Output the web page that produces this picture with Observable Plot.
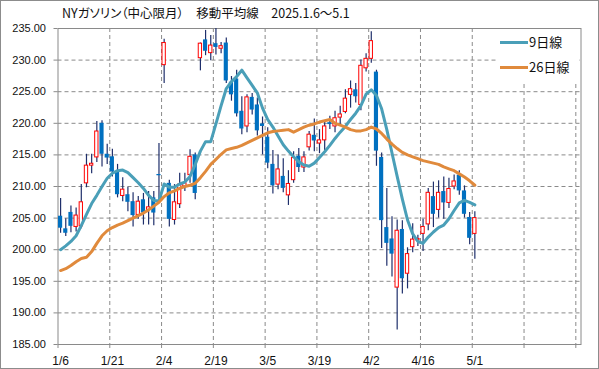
<!DOCTYPE html>
<html><head><meta charset="utf-8">
<script src="https://cdn.jsdelivr.net/npm/d3@7"></script>
<script src="https://cdn.jsdelivr.net/npm/@observablehq/plot@0.6"></script>
<style>
body{margin:0;background:#fff;}
#wrap{position:relative;width:599px;height:369px;overflow:hidden;background:#fff;}
#wrap svg{position:absolute;left:0;top:0;}
#border{position:absolute;left:0;top:0;width:599px;height:369px;box-sizing:border-box;border:1px solid #8c8c8c;pointer-events:none;}
#title{position:absolute;left:62px;top:6px;font-family:"Noto Sans CJK JP",sans-serif;font-size:12.5px;line-height:14px;color:#111;white-space:pre;font-feature-settings:"palt";}
#legend{position:absolute;left:497px;top:29px;width:82px;height:54px;background:#fff;}
.lgline{position:absolute;height:3px;width:28px;left:500px;}
.lgtext{position:absolute;left:529px;font-family:"Noto Sans CJK JP",sans-serif;font-size:13px;line-height:14px;color:#111;}
</style></head>
<body>
<div id="wrap">
<div id="chart"></div>
<div id="title">NYガソリン（中心限月）　移動平均線　2025.1.6～5.1</div>
<div id="legend"></div>
<div class="lgline" style="top:41px;background:#4a9fb8"></div>
<div class="lgtext" style="top:35px">9日線</div>
<div class="lgline" style="top:66px;background:#e08a3c"></div>
<div class="lgtext" style="top:60px">26日線</div>
<div id="border"></div>
</div>
<script>
const tickLabels = ["1/6","1/21","2/4","2/19","3/5","3/19","4/2","4/16","5/1"];
const tickSlots = [0,10,20,30,40,50,60,70,80];
const yTicks = [185,190,195,200,205,210,215,220,225,230,235];

const open  = [205.3,203.3,205.9,203.6,203.7,210.5,213.3,214.6,220.0,215.1,214.7,212.3,208.5,208.7,207.6,205.5,207.9,206.3,208.2,211.9,229.2,210.5,204.7,207.2,210.0,211.8,215.0,230.3,233.2,231.1,232.6,231.8,232.7,226.5,227.0,221.9,219.5,224.1,222.9,219.9,217.8,213.5,210.3,211.6,208.6,211.0,214.8,213.0,216.2,218.1,216.8,217.3,220.1,219.5,220.9,221.8,224.5,225.3,222.9,228.7,230.2,228.1,214.6,203.5,201.7,194.0,203.2,196.2,200.4,201.5,202.5,204.0,208.4,206.3,209.2,207.4,210.0,211.8,209.3,205.1,202.5];
const high  = [208.1,204.9,206.9,206.6,210.3,215.1,215.1,220.3,220.4,216.7,215.9,213.5,211.4,209.9,209.0,208.4,208.9,209.2,209.2,216.8,233.3,211.0,210.3,212.1,212.1,215.8,215.3,232.7,234.7,233.9,235.0,232.8,233.5,227.4,228.4,224.2,224.5,224.7,224.0,221.0,219.3,215.7,215.0,214.4,212.5,215.5,216.0,215.5,218.7,220.7,219.0,220.3,221.1,221.9,222.7,225.3,226.7,226.3,230.0,231.0,234.5,228.4,215.3,209.7,205.2,204.7,204.6,200.3,204.1,202.3,204.8,209.7,210.7,210.9,211.5,211.3,211.8,212.5,210.1,205.9,206.0];
const low   = [202.6,202.1,202.7,202.8,203.3,209.8,212.0,213.8,213.1,213.5,211.5,208.2,207.6,206.0,203.6,204.8,203.9,203.9,203.8,207.5,226.3,203.6,203.9,206.5,209.2,210.5,207.9,228.3,230.7,229.9,230.8,231.0,226.3,223.5,221.0,218.2,218.5,221.3,218.0,215.0,212.8,208.8,209.5,209.0,207.0,210.5,212.2,212.2,215.6,215.5,215.2,215.6,219.0,218.5,219.6,221.5,222.4,223.2,222.0,228.1,229.5,213.2,200.2,197.4,195.7,187.3,193.0,193.8,199.5,200.5,199.7,203.0,203.5,205.0,204.8,206.5,209.5,208.6,205.0,200.8,198.5];
const close = [203.4,202.6,203.7,205.4,207.5,213.3,213.6,218.7,215.1,214.5,212.3,208.7,209.5,207.5,205.4,207.6,205.8,206.7,205.8,211.7,232.7,204.8,207.5,210.3,210.5,214.7,208.9,232.6,231.4,232.3,232.0,232.2,226.7,224.5,221.5,219.1,224.1,222.1,218.8,219.5,213.7,210.1,212.7,209.7,210.4,214.5,213.0,214.6,218.2,217.2,217.3,219.5,219.8,220.8,221.4,223.9,225.4,224.2,229.1,230.2,233.0,215.6,204.6,201.0,199.3,203.0,195.4,199.3,201.6,201.7,203.6,209.0,205.6,209.0,207.4,209.6,210.8,209.3,205.6,201.8,205.0];
const ma9   = [200.0,200.6,201.3,202.2,203.8,205.6,207.3,208.6,210.0,211.3,212.1,212.5,212.6,212.2,211.4,210.6,209.7,208.6,207.8,207.7,210.4,209.9,209.9,210.4,210.7,211.6,213.5,215.6,217.1,217.1,219.9,222.8,225.5,226.6,227.4,228.4,227.2,226.0,224.8,222.4,220.6,219.4,218.0,216.6,215.6,214.7,213.9,213.4,213.2,213.7,214.6,215.5,216.5,217.6,218.6,219.5,220.6,221.6,222.8,224.6,225.3,224.4,222.3,219.0,215.3,211.6,208.0,204.7,202.5,201.3,201.0,202.0,202.8,203.5,203.9,204.9,206.2,207.4,207.8,207.5,207.1];
const ma26  = [196.7,197.0,197.5,198.1,198.6,198.8,199.7,201.0,202.2,203.0,203.5,203.9,204.2,204.6,205.0,205.4,205.8,206.3,206.9,207.5,208.4,209.0,209.3,209.7,210.0,210.2,210.5,211.4,212.4,213.5,214.3,215.1,215.8,216.0,216.2,216.5,216.9,217.3,217.7,218.1,218.5,218.7,218.8,218.9,219.0,218.6,219.0,219.4,219.7,219.9,220.2,220.4,220.6,220.0,219.7,219.4,219.0,218.8,218.8,219.0,219.4,219.1,218.4,217.5,216.7,216.0,215.4,215.0,214.7,214.4,214.1,213.9,213.7,213.5,213.1,212.8,212.5,212.0,211.5,210.9,210.2];

const idx = d3.range(open.length);
const bars = idx.map(i => ({i, o: open[i], h: high[i], l: low[i], c: close[i]}));
const up = bars.filter(d => d.c >= d.o);
const down = bars.filter(d => d.c < d.o);
const labelMap = new Map(tickSlots.map((s, k) => [s, tickLabels[k]]));
const grid = "#8a8a8a";

const chart = Plot.plot({
  width: 599, height: 369,
  marginLeft: 57.5, marginRight: 18.5, marginTop: 28, marginBottom: 25,
  style: {background: "transparent", fontFamily: "'Liberation Sans', Arial, sans-serif", color: "#111"},
  x: {type: "linear", domain: [0, 101]},
  y: {domain: [185, 235]},
  marks: [
    Plot.ruleY(yTicks.slice(1, -1), {stroke: grid, strokeDasharray: "4,3"}),
    Plot.ruleX(d3.range(10, 101, 10), {stroke: grid, strokeDasharray: "4,3"}),
    Plot.frame({stroke: grid}),
    Plot.axisY({ticks: yTicks, tickFormat: d => d.toFixed(2), tickSize: 4, tickPadding: 8, stroke: grid, fontSize: 11, label: null}),
    Plot.axisX({ticks: d3.range(0, 101, 10), tickFormat: () => "", tickSize: 4, stroke: grid, label: null}),
    Plot.axisX({ticks: tickSlots.map(s => s + 0.5), tickFormat: d => labelMap.get(Math.round(d - 0.5)), tickSize: 0, tickPadding: 12, fontSize: 12, label: null}),
    Plot.ruleX(bars, {x: d => d.i + 0.5, y1: "l", y2: "h", stroke: "#1f2f6b", strokeWidth: 1.2}),
    Plot.rect(down, {x1: d => d.i + 0.1, x2: d => d.i + 0.9, y1: "o", y2: "c", fill: "#0070c0"}),
    Plot.rect(up, {x1: d => d.i + 0.18, x2: d => d.i + 0.82, y1: "o", y2: "c", fill: "white", stroke: "#ff0000", strokeWidth: 1}),
    Plot.line(idx, {x: i => i + 0.5, y: i => ma9[i], stroke: "#4a9fb8", strokeWidth: 3}),
    Plot.line(idx, {x: i => i + 0.5, y: i => ma26[i], stroke: "#e08a3c", strokeWidth: 3})
  ]
});
document.getElementById("chart").appendChild(chart);
</script>
</body></html>
